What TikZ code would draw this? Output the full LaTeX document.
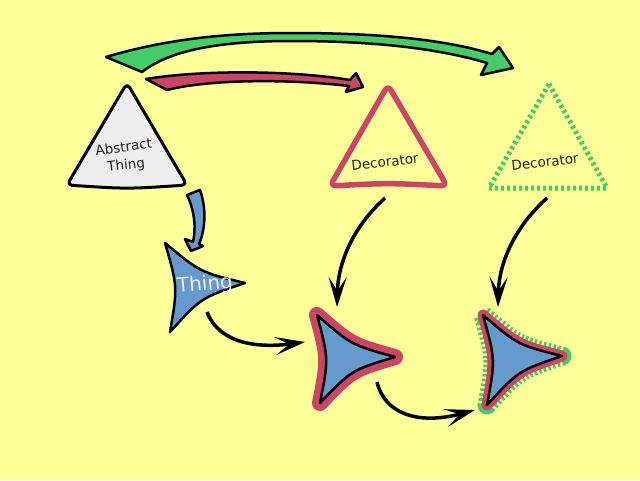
\documentclass[tikz,border=0pt]{standalone}
\usepackage{fontspec}
\setmainfont{DejaVu Sans}
\usetikzlibrary{arrows.meta,calc}

\definecolor{paper}{HTML}{FFFF99}
\definecolor{decored}{HTML}{CC4466}
\definecolor{decogreen}{HTML}{44CC66}
\definecolor{thingblue}{HTML}{6699CC}
\definecolor{abstractgray}{HTML}{EEEEEE}
\definecolor{inkgray}{HTML}{222222}

\tikzset{
	outline/.style={draw=black,line width=2.5pt,line join=round},
	caption/.style={font=\fontsize{13.5}{18}\selectfont,text=inkgray,align=center,rotate=7},
	link/.style={line width=3.5pt,-{Stealth[length=30pt,width=18pt,inset=14pt]}}
}

% concave three-pointed dart through #2,#3,#4, bent towards #5
\newcommand{\dart}[5][]{%
	\path[#1] (#2) .. controls ($(#2)!.5!(#3)!.4!(#5)$) .. (#3)
		.. controls ($(#3)!.5!(#4)!.45!(#5)$) .. (#4)
		.. controls ($(#4)!.5!(#2)!.4!(#5)$) .. (#2) -- cycle;}

\begin{document}
\begin{tikzpicture}[x=1pt,y=-1pt]
	\useasboundingbox (0,0) rectangle (640,480);
	\fill[paper] (0,0) rectangle (640,480);

	% abstract thing and the two decorators
	\draw[outline,line width=3pt,fill=abstractgray,rounded corners=5pt] (127,83) -- (187,185) .. controls (127,189) .. (67,185) -- cycle;
	\draw[draw=decored,line width=5.5pt,line join=round,rounded corners=6pt] (388,85) -- (447,186) .. controls (388,183) .. (330,186) -- cycle;
	\draw[draw=decogreen,line width=5pt,dash pattern=on 3pt off 3pt] (549,84) -- (607,188) -- (489,188) -- cycle;
	\node[caption] (abs) at (125,157) {Abstract\\Thing};
	\node[caption] (decR) at (385,162) {Decorator};
	\node[caption] (decG) at (545,162) {Decorator};

	% the things
	\coordinate (t1) at (165,243);
	\coordinate (t2) at (245,283);
	\coordinate (t3) at (170,332);
	\coordinate (tc) at (193,286);
	\dart[outline,fill=thingblue]{t1}{t2}{t3}{tc}
	\node[font=\fontsize{20}{24}\selectfont,text=abstractgray,rotate=5] (thing) at (205,285) {Thing};

	\coordinate (m1) at (317,315);
	\coordinate (m2) at (395,357);
	\coordinate (m3) at (320,403);
	\coordinate (mc) at (344,358);
	\dart[draw=decored,line width=16pt,line join=round]{m1}{m2}{m3}{mc}
	\dart[outline,fill=thingblue]{m1}{m2}{m3}{mc}

	\coordinate (r1) at (483,315);
	\coordinate (r2) at (562,356);
	\coordinate (r3) at (487,405);
	\coordinate (rc) at (511,359);
	\dart[draw=decogreen,line width=19pt,line join=round,dash pattern=on 2.5pt off 2.5pt]{r1}{r2}{r3}{rc}
	\dart[draw=decored,line width=11pt,line join=round]{r1}{r2}{r3}{rc}
	\dart[outline,fill=thingblue]{r1}{r2}{r3}{rc}

	% fat arrows
	\draw[outline,fill=decogreen] (106,57) .. controls (170,38) and (230,33) .. (292,33)
		.. controls (370,33) and (440,38) .. (492,54) -- (499,47) -- (513,68) -- (481,75) -- (487,63)
		.. controls (430,46) and (360,41) .. (292,41) .. controls (220,41) and (170,50) .. (142,72) -- cycle;
	\draw[outline,fill=decored] (146,79) .. controls (200,70) and (290,70) .. (350,80) -- (356,73)
		-- (363,87) -- (346,92) -- (349,86) .. controls (290,79) and (210,79) .. (167,90) -- cycle;
	\draw[outline,fill=thingblue] (187,195) -- (200,190) .. controls (207,210) and (205,230) .. (199,244)
		-- (203,246) -- (191,251) -- (185,239) -- (193,242) .. controls (196,228) and (195,212) .. (187,195) -- cycle;

	% black connectors
	\coordinate (decR-out) at (385,198);
	\coordinate (decG-out) at (547,198);
	\coordinate (thing-out) at (207,312);
	\coordinate (mid-in) at (305,342);
	\coordinate (mid-top) at (337,307);
	\coordinate (mid-out) at (377,382);
	\coordinate (right-in) at (475,410);
	\coordinate (right-top) at (498,307);
	\draw[link] (decR-out) .. controls (355,225) and (338,260) .. (mid-top);
	\draw[link] (decG-out) .. controls (517,225) and (499,260) .. (right-top);
	\draw[link] (thing-out) .. controls (220,345) and (260,348) .. (mid-in);
	\draw[link] (mid-out) .. controls (385,415) and (420,425) .. (right-in);
\end{tikzpicture}
\end{document}
